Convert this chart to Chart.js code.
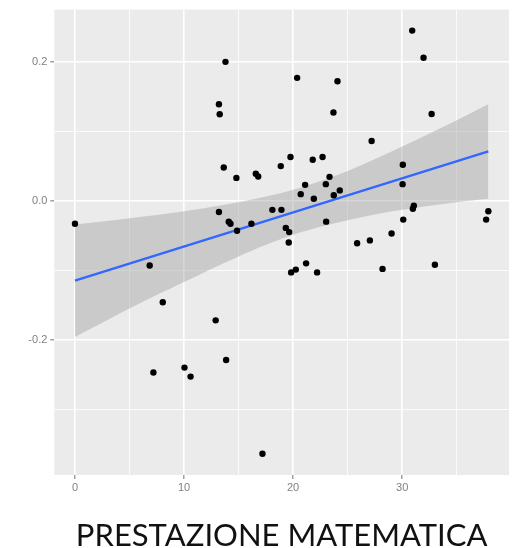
<!DOCTYPE html>
<html>
<head>
<meta charset="utf-8">
<script src="https://cdn.jsdelivr.net/npm/chart.js@4/dist/chart.umd.min.js"></script>
<style>
html,body{margin:0;padding:0;background:#fff;}
#wrap{width:513px;height:548px;}
</style>
</head>
<body>
<div id="wrap"><canvas id="c" width="513" height="548"></canvas></div>
<script>
// scatter points (x, y)
const pointX = [0, 6.85, 8.05, 7.19, 10.04, 10.6, 12.9, 13.86, 13.8, 13.2, 13.27, 13.64, 14.8, 13.2, 14.1, 14.26, 14.86, 16.18, 16.58, 16.8, 17.19, 18.1, 18.87, 18.93, 19.33, 19.64, 19.6, 19.76, 19.82, 20.25, 20.37, 20.7, 21.1, 21.19, 21.8, 21.9, 22.2, 22.7, 23.0, 23.03, 23.34, 23.7, 23.73, 24.07, 24.28, 25.87, 27.04, 27.2, 28.2, 29.03, 30.04, 30.06, 30.1, 30.92, 30.98, 31.07, 31.96, 32.7, 33.0, 37.7, 37.9];
const pointY = [-0.033, -0.093, -0.146, -0.247, -0.240, -0.253, -0.172, -0.229, 0.200, 0.139, 0.1245, 0.048, 0.033, -0.016, -0.030, -0.033, -0.043, -0.033, 0.039, 0.035, -0.364, -0.013, 0.050, -0.013, -0.039, -0.045, -0.060, 0.063, -0.103, -0.099, 0.177, 0.0096, 0.023, -0.090, 0.059, 0.003, -0.103, 0.063, 0.024, -0.030, 0.0345, 0.127, 0.008, 0.172, 0.015, -0.061, -0.057, 0.086, -0.098, -0.047, 0.024, 0.052, -0.027, 0.245, -0.0115, -0.007, 0.206, 0.125, -0.092, -0.027, -0.015];
// fitted line (read at ends)
const fitX = [0, 37.9];
const fitY = [-0.1149, 0.0712];
// confidence band
const bandX = [0, 5, 10, 15, 20, 25, 30, 35, 37.9];
const bandLow = [-0.196, -0.155, -0.117, -0.080, -0.049, -0.028, -0.013, -0.002, 0.003];
const bandHigh = [-0.034, -0.025, -0.015, -0.002, 0.016, 0.043, 0.078, 0.116, 0.139];
// ticks
const xMajorTicks = [0, 10, 20, 30];
const xMinorTicks = [5, 15, 25, 35];
const yMajorTicks = [-0.2, 0, 0.2];
const yMajorLabels = ['-0.2', '0.0', '0.2'];
const yMinorTicks = [-0.3, -0.1, 0.1];
const titleText = 'PRESTAZIONE MATEMATICA';

const toXY = (xs, ys) => xs.map((x, i) => ({x: x, y: ys[i]}));

const panelBg = {
  id: 'panelBg',
  beforeDraw(chart) {
    const ctx = chart.ctx, a = chart.chartArea;
    ctx.save();
    ctx.fillStyle = '#ffffff';
    ctx.fillRect(0, 0, chart.width, chart.height);
    ctx.fillStyle = '#EBEBEB';
    ctx.fillRect(a.left, a.top, a.right - a.left, a.bottom - a.top);
    ctx.restore();
  }
};

const isMajorX = v => xMajorTicks.includes(v);
const isMajorY = v => yMajorTicks.some(t => Math.abs(t - v) < 1e-9);

new Chart(document.getElementById('c'), {
  type: 'scatter',
  data: {
    datasets: [
      {
        data: toXY(pointX, pointY), pointRadius: 3.2, pointBorderWidth: 0,
        backgroundColor: '#000000', borderColor: '#000000'
      },
      {
        data: toXY(fitX, fitY), showLine: true, pointRadius: 0,
        borderColor: '#3366FF', borderWidth: 2.2, fill: false
      },
      {
        data: toXY(bandX, bandHigh), showLine: true, pointRadius: 0,
        borderWidth: 0, borderColor: 'rgba(0,0,0,0)', tension: 0.35,
        fill: '+1', backgroundColor: 'rgba(153,153,153,0.4)'
      },
      {
        data: toXY(bandX, bandLow), showLine: true, pointRadius: 0,
        borderWidth: 0, borderColor: 'rgba(0,0,0,0)', tension: 0.35, fill: false
      }
    ]
  },
  options: {
    responsive: false,
    animation: false,
    events: [],
    layout: {padding: {top: 8.3, right: 3, left: 0, bottom: 0}},
    plugins: {
      legend: {display: false},
      tooltip: {enabled: false},
      title: {
        display: true, position: 'bottom', fullSize: false,
        text: titleText, color: '#111111',
        font: {family: 'Lato', size: 31, weight: 'normal', lineHeight: 0.8},
        padding: {top: 0, bottom: 0}
      }
    },
    scales: {
      x: {
        type: 'linear', min: -1.895, max: 39.795,
        afterBuildTicks(s) { s.ticks = xMajorTicks.concat(xMinorTicks).sort((a,b)=>a-b).map(v => ({value: v})); },
        afterFit(s) { s.height = 48.2; },
        ticks: {
          autoSkip: false, maxRotation: 0, padding: 2,
          color: '#7f7f7f', font: {family: 'Liberation Sans', size: 11},
          callback: v => isMajorX(v) ? String(v) : ''
        },
        grid: {
          color: '#ffffff',
          lineWidth: c => (c.tick && isMajorX(c.tick.value)) ? 1.6 : 0.8,
          tickColor: c => (c.tick && isMajorX(c.tick.value)) ? '#8a8a8a' : 'rgba(0,0,0,0)',
          tickLength: 4, tickWidth: 1.2
        },
        border: {display: false}
      },
      y: {
        type: 'linear', min: -0.3946, max: 0.2752,
        afterBuildTicks(s) { s.ticks = yMajorTicks.concat(yMinorTicks).sort((a,b)=>a-b).map(v => ({value: v})); },
        afterFit(s) { s.width = 54.3; },
        ticks: {
          autoSkip: false, padding: 3,
          color: '#7f7f7f', font: {family: 'Liberation Sans', size: 11},
          callback: v => {
            const i = yMajorTicks.findIndex(t => Math.abs(t - v) < 1e-9);
            return i >= 0 ? yMajorLabels[i] : '';
          }
        },
        grid: {
          color: '#ffffff',
          lineWidth: c => (c.tick && isMajorY(c.tick.value)) ? 1.6 : 0.8,
          tickColor: c => (c.tick && isMajorY(c.tick.value)) ? '#8a8a8a' : 'rgba(0,0,0,0)',
          tickLength: 4, tickWidth: 1.2
        },
        border: {display: false}
      }
    }
  },
  plugins: [panelBg]
});
</script>
</body>
</html>
